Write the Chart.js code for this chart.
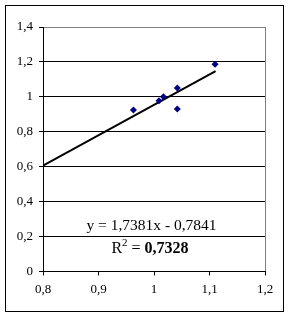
<!DOCTYPE html>
<html><head><meta charset="utf-8">
<script src="https://cdn.jsdelivr.net/npm/chart.js@4"></script>
<style>html,body{margin:0;padding:0;background:#fff;}#wrap{width:289px;height:317px;position:relative;}</style>
</head><body><div id="wrap"><canvas id="c" width="289" height="317"></canvas></div>
<script>
const pointsX = [0.963, 1.009, 1.017, 1.042, 1.042, 1.110];
const pointsY = [0.925, 0.977, 1.000, 1.051, 0.931, 1.187];
const trendX = [0.8, 1.111];
const trendY = [0.606, 1.147];
const xTickLabels = {0.8:'0,8', 0.9:'0,9', 1:'1', 1.1:'1,1', 1.2:'1,2'};
const yTickLabels = {0:'0', 0.2:'0,2', 0.4:'0,4', 0.6:'0,6', 0.8:'0,8', 1:'1', 1.2:'1,2', 1.4:'1,4'};
const eqText = 'y = 1,7381x - 0,7841';
const r2Value = '0,7328';

const FONT = '"Liberation Serif", "Times New Roman", serif';
const key = v => Math.round(v*10)/10;

const frame = {
  id:'frame',
  beforeDraw(chart){
    const ctx = chart.ctx;
    ctx.save();
    ctx.fillStyle = '#fff';
    ctx.fillRect(0,0,chart.width,chart.height);
    ctx.strokeStyle = '#000';
    ctx.lineWidth = 1;
    ctx.strokeRect(5.5,5.5,278,306);
    ctx.restore();
  },
  afterDatasetsDraw(chart){
    const ctx = chart.ctx;
    ctx.save();
    ctx.fillStyle = '#000';
    ctx.textBaseline = 'middle';
    ctx.textAlign = 'center';
    ctx.font = '15.5px ' + FONT;
    ctx.fillText(eqText, 151.5, 226);
    const parts = [
      {t:'R', f:'16px '+FONT, dy:0},
      {t:'2', f:'11px '+FONT, dy:-6},
      {t:' = ', f:'16px '+FONT, dy:0},
      {t:r2Value, f:'bold 16px '+FONT, dy:0}
    ];
    let total = 0;
    parts.forEach(p=>{ctx.font=p.f; p.w=ctx.measureText(p.t).width; total+=p.w;});
    let x = 150 - total/2;
    ctx.textAlign='left';
    parts.forEach(p=>{ctx.font=p.f; ctx.fillText(p.t, x, 249+p.dy); x+=p.w;});
    ctx.restore();
  }
};

new Chart(document.getElementById('c'), {
  type:'scatter',
  data:{
    datasets:[
      {
        label:'trend',
        type:'line',
        data: trendX.map((x,i)=>({x, y:trendY[i]})),
        borderColor:'#000',
        borderWidth:2,
        pointRadius:0,
        fill:false,
        order:2
      },
      {
        label:'data',
        data: pointsX.map((x,i)=>({x, y:pointsY[i]})),
        pointStyle:'rectRot',
        pointRadius:3.5,
        pointBackgroundColor:'#000080',
        pointBorderColor:'#000080',
        pointBorderWidth:0,
        order:1
      }
    ]
  },
  options:{
    responsive:false,
    animation:false,
    devicePixelRatio:1,
    layout:{padding:{left:0, top:27, right:24, bottom:0}},
    plugins:{legend:{display:false}, tooltip:{enabled:false}},
    scales:{
      x:{
        type:'linear', min:0.8, max:1.2,
        ticks:{stepSize:0.1, color:'#000', font:{family:FONT, size:13}, padding:6, maxRotation:0,
          callback:(v)=>xTickLabels[key(v)] ?? ''},
        grid:{drawOnChartArea:true, drawTicks:true, tickLength:4, tickColor:'#000',
          color:(c)=> (c.tick && key(c.tick.value)===1.2) ? '#808080' : 'rgba(0,0,0,0)', lineWidth:1},
        border:{color:'#000', width:1},
        afterFit:(s)=>{s.height = 45.5;}
      },
      y:{
        type:'linear', min:0, max:1.4,
        ticks:{stepSize:0.2, color:'#000', font:{family:FONT, size:13}, padding:6,
          callback:(v)=>yTickLabels[key(v)] ?? ''},
        grid:{drawTicks:true, tickLength:4, tickColor:'#000',
          color:(c)=> (c.tick && key(c.tick.value)===1.4) ? '#808080' : '#000', lineWidth:1},
        border:{color:'#000', width:1},
        afterFit:(s)=>{s.width = 43;}
      }
    }
  },
  plugins:[frame]
});
</script>
</body></html>
